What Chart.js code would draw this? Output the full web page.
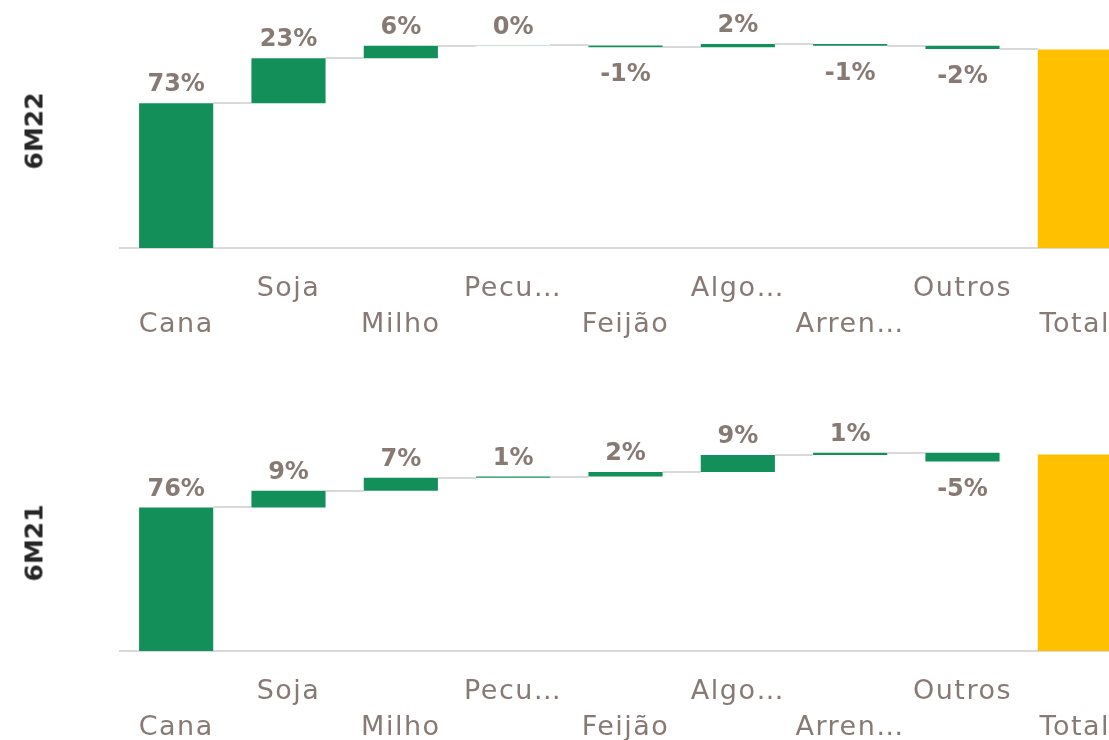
<!DOCTYPE html>
<html>
<head>
<meta charset="utf-8">
<script src="https://cdn.jsdelivr.net/npm/chart.js@4.4.1/dist/chart.umd.min.js"></script>
<style>
  html, body { margin: 0; padding: 0; background: #fff; overflow: hidden; width: 1109px; height: 740px; }
  .row { position: relative; width: 1131px; }
  #row1 { height: 370px; }
  #row2 { height: 406px; }
  .side {
    position: absolute; left: 34px;
    transform: translate(-50%, -50%) rotate(-90deg);
    font: bold 25px "DejaVu Sans", sans-serif; color: #262626; white-space: nowrap;
  }
</style>
</head>
<body>
<div class="row" id="row1">
  <div class="side" style="top:131px">6M22</div>
  <canvas id="c1"></canvas>
</div>
<div class="row" id="row2">
  <div class="side" style="top:173px">6M21</div>
  <canvas id="c2"></canvas>
</div>
<script>
const categories = ['Cana', 'Soja', 'Milho', 'Pecu…', 'Feijão', 'Algo…', 'Arren…', 'Outros', 'Total'];

const deltas6M22 = [73, 22.7, 6.2, 0.2, -0.9, 1.6, -0.8, -1.7];
const total6M22 = 100;

const deltas6M21 = [76, 8.8, 6.9, 0.6, 2.4, 9.0, 1.2, -4.6];
const total6M21 = 104;

const GREEN = '#138F5A';
const YELLOW = '#FFC000';
const TEXT = '#877A75';
const LINE = '#D9D9D9';

// rótulos alternados em duas linhas
const tickLabels = categories.map((c, i) => (i % 2 ? [c, ''] : ['', c]));

function waterfall(deltas, total) {
    let level = 0;
    const bars = deltas.map(d => {
        const b = [level, level + d];
        level += d;
        return b;
    });
    bars.push([0, total]);
    return bars;
}

const waterfallExtras = {
    id: 'waterfallExtras',
    beforeDraw(chart) {
        // eixo x mais espaçado, tipo Century Gothic
        chart.ctx.letterSpacing = '1.5px';
    },
    beforeDatasetsDraw(chart) {
        const { ctx } = chart;
        ctx.letterSpacing = '0px';
        const y = chart.scales.y;
        const meta = chart.getDatasetMeta(0);
        const bars = chart.data.datasets[0].data;
        ctx.save();
        ctx.strokeStyle = LINE;
        ctx.lineWidth = 2;
        for (let i = 0; i < bars.length - 1; i++) {
            const level = bars[i][1];
            const next = bars[i + 1];
            if (Math.abs(next[0] - level) > 0.5 && Math.abs(next[1] - level) > 0.5) continue;
            const a = meta.data[i], b = meta.data[i + 1];
            const py = Math.round(y.getPixelForValue(level));
            ctx.beginPath();
            ctx.moveTo(a.x + a.width / 2, py);
            ctx.lineTo(b.x - b.width / 2, py);
            ctx.stroke();
        }
        ctx.restore();
    },
    afterDatasetsDraw(chart) {
        const { ctx } = chart;
        const y = chart.scales.y;
        const meta = chart.getDatasetMeta(0);
        const ds = chart.data.datasets[0];
        ctx.save();
        ctx.fillStyle = TEXT;
        ctx.font = 'bold 24px "DejaVu Sans", sans-serif';
        ctx.textAlign = 'center';
        ds.deltas.forEach((d, i) => {
            const bar = ds.data[i];
            const el = meta.data[i];
            const txt = Math.round(d) + '%';
            if (d >= 0) {
                ctx.textBaseline = 'bottom';
                ctx.fillText(txt, el.x, y.getPixelForValue(Math.max(...bar)) - 6);
            } else {
                ctx.textBaseline = 'top';
                ctx.fillText(txt, el.x, y.getPixelForValue(Math.min(...bar)) + 16);
            }
        });
        ctx.restore();
    }
};

function makeChart(id, deltas, total, yMax, padBottom) {
    const colors = deltas.map(() => GREEN).concat([YELLOW]);
    return new Chart(document.getElementById(id), {
        type: 'bar',
        data: {
            labels: tickLabels,
            datasets: [{
                data: waterfall(deltas, total),
                deltas: deltas,
                backgroundColor: colors,
                borderWidth: 0,
                barPercentage: 0.66,
                categoryPercentage: 1,
            }],
        },
        options: {
            responsive: true,
            maintainAspectRatio: false,
            animation: false,
            layout: { padding: { left: 120, right: 0, top: 0, bottom: padBottom } },
            plugins: { legend: { display: false }, tooltip: { enabled: false } },
            scales: {
                x: {
                    grid: { display: false, drawTicks: false },
                    border: { display: true, color: LINE, width: 2 },
                    ticks: {
                        autoSkip: false,
                        maxRotation: 0,
                        padding: 23,
                        color: TEXT,
                        font: { family: '"DejaVu Sans", sans-serif', size: 27, lineHeight: '36px' },
                    },
                },
                y: { display: false, min: 0, max: yMax },
            },
        },
        plugins: [waterfallExtras],
    });
}

makeChart('c1', deltas6M22, total6M22, 125, 4);
makeChart('c2', deltas6M21, total6M21, 148.7, 7);
</script>
</body>
</html>
